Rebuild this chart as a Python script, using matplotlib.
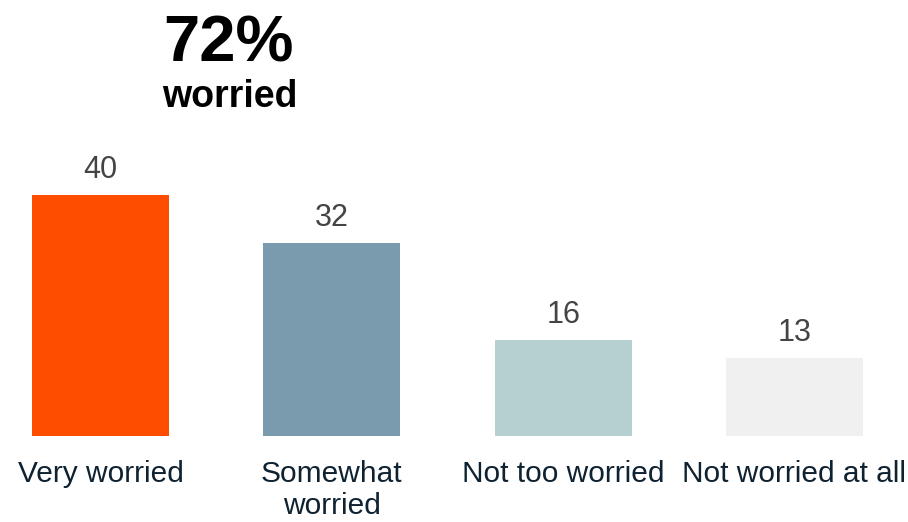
import matplotlib.pyplot as plt

categories = ['Very worried', 'Somewhat\nworried', 'Not too worried', 'Not worried at all']
values = [40, 32, 16, 13]
colors = ['#FF4D00', '#7A9AAD', '#B6D0D2', '#F0F0F0']

headline = '72%'
subhead = 'worried'

plt.rcParams['font.family'] = ['Liberation Sans', 'DejaVu Sans']

W, H = 908, 522
fig = plt.figure(figsize=(W / 100, H / 100), dpi=100)
# axes spans full width, baseline at 436 px from top
ax = fig.add_axes([0, 86 / H, 1, 436 / H])

step = 231.33
x = list(range(len(values)))
ax.bar(x, values, width=137 / step, color=colors)
ax.set_xlim(-100.5 / step, (W - 100.5) / step)
ax.set_ylim(0, 436 / 6.025)

for xi, v in zip(x, values):
    ax.annotate(str(v), (xi, v), xytext=(0, 12.2), textcoords='offset points',
                ha='center', va='baseline', fontsize=22, color='#444444')

ax.set_xticks(x)
ax.set_xticklabels(categories, fontsize=21.5, color='#0F2231', linespacing=1.2)
ax.tick_params(axis='x', length=0, pad=17)
ax.set_yticks([])
for s in ax.spines.values():
    s.set_visible(False)

fig.text(228 / W, 1 - 61 / H, headline, ha='center', va='baseline',
         fontsize=47, fontweight='bold', color='black')
fig.text(229.5 / W, 1 - 107 / H, subhead, ha='center', va='baseline',
         fontsize=27, fontweight='bold', color='black')

fig.savefig('out.png', dpi=100)
